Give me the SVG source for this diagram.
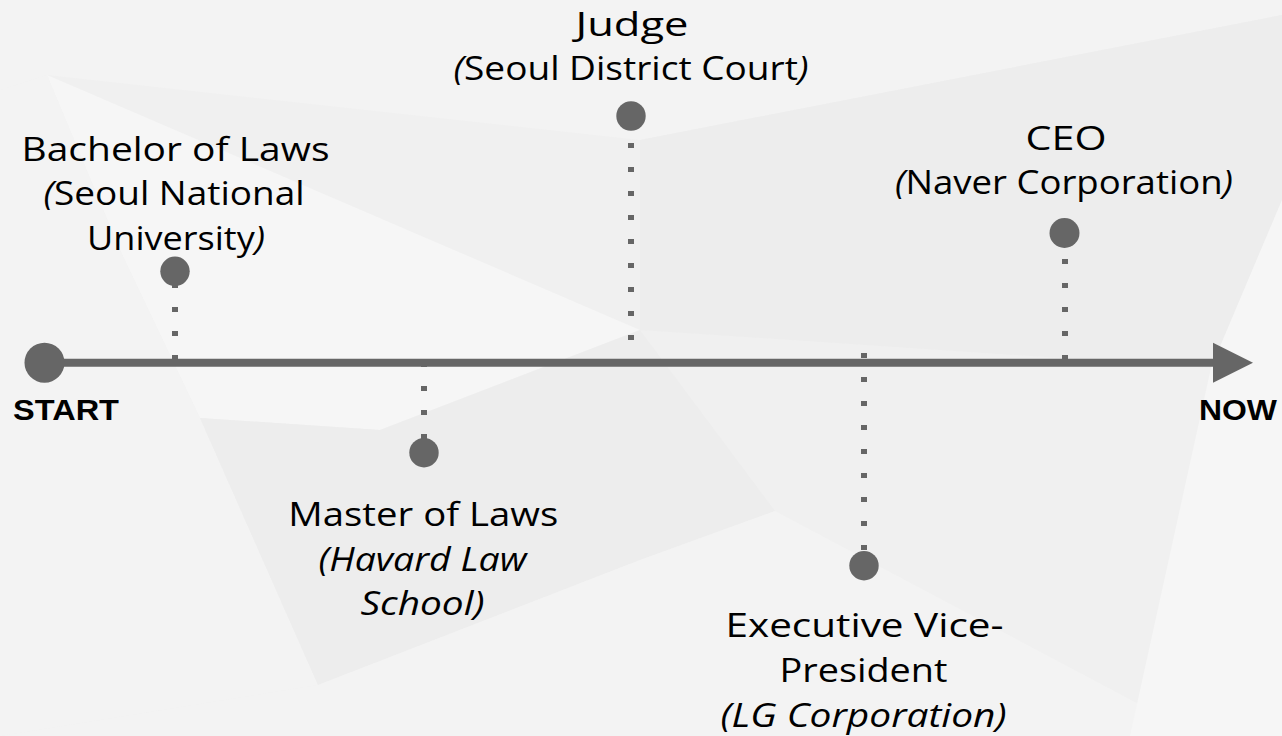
<svg xmlns="http://www.w3.org/2000/svg" width="1282" height="736" viewBox="0 0 1282 736">
<style>
.base{fill:#f0f0f0}
.lt{fill:#f6f6f6}
.lt2{fill:#f3f3f3}
.dk{fill:#ededed}
.dot{fill:#666666}
.axis{stroke:#666666;stroke-width:8;fill:none}
.dash{stroke:#666666;stroke-width:6;stroke-dasharray:5 19;fill:none}
.t{font-family:"Open Sans","Noto Sans","DejaVu Sans",sans-serif;font-size:33px;fill:#000000;text-anchor:middle}
.i{font-style:italic}
.b{font-family:"Liberation Sans",Arial,sans-serif;font-weight:bold;font-size:29px;fill:#000000}
</style>
<g id="background">
<rect class="base" x="0" y="0" width="1282" height="736"/>
<polygon class="lt2" points="0,0 1282,0 1282,15 640,140 47,75 0,90"/>
<polygon class="lt" points="47,75 640,330 380,430 200,418 120,250"/>
<polygon class="lt2" points="0,90 47,75 120,250 200,418 318,685 0,736"/>
<polygon class="dk" points="200,418 380,430 640,330 775,511 640,560 318,685"/>
<polygon class="lt2" points="318,685 640,560 775,511 1199,736 0,736"/>
<polygon class="dk" points="640,140 1282,15 1282,200 1211,368 640,330"/>
<polygon class="lt" points="1282,200 1282,736 1130,736 1211,368"/>
</g>
<g id="connectors">
<line class="axis" x1="44" y1="362.7" x2="1215" y2="362.7"/>
<polygon class="dot" points="1213,342.7 1253,362.7 1213,382.7"/>
<line class="dash" x1="175" y1="283" x2="175" y2="362"/>
<line class="dash" x1="631" y1="119" x2="631" y2="364"/>
<line class="dash" x1="1065" y1="235" x2="1065" y2="362"/>
<line class="dash" x1="424" y1="362" x2="424" y2="445"/>
<line class="dash" x1="864" y1="353" x2="864" y2="555"/>
</g>
<g id="start">
<circle class="dot" cx="44.5" cy="362.7" r="20"/>
<text class="b" x="13" y="420" textLength="106" lengthAdjust="spacingAndGlyphs">START</text>
</g>
<g id="now">
<text class="b" x="1199" y="420" textLength="78" lengthAdjust="spacingAndGlyphs">NOW</text>
</g>
<g id="bachelor">
<circle class="dot" cx="175" cy="271.3" r="14.7"/>
<text class="t" x="175.5" y="161" textLength="308" lengthAdjust="spacingAndGlyphs">Bachelor of Laws</text>
<text class="t" x="174" y="204.5" textLength="261" lengthAdjust="spacingAndGlyphs"><tspan class="i">(</tspan>Seoul National</text>
<text class="t" x="176" y="250" textLength="178" lengthAdjust="spacingAndGlyphs">University<tspan class="i">)</tspan></text>
</g>
<g id="judge">
<circle class="dot" cx="631" cy="116" r="14.7"/>
<text class="t" x="632" y="35.5" textLength="113" lengthAdjust="spacingAndGlyphs">Judge</text>
<text class="t" x="631" y="80" textLength="355" lengthAdjust="spacingAndGlyphs"><tspan class="i">(</tspan>Seoul District Court<tspan class="i">)</tspan></text>
</g>
<g id="ceo">
<circle class="dot" cx="1064.5" cy="233" r="15"/>
<text class="t" x="1066" y="150" textLength="81" lengthAdjust="spacingAndGlyphs">CEO</text>
<text class="t" x="1064" y="194" textLength="338" lengthAdjust="spacingAndGlyphs"><tspan class="i">(</tspan>Naver Corporation<tspan class="i">)</tspan></text>
</g>
<g id="master">
<circle class="dot" cx="424" cy="452.7" r="14.7"/>
<text class="t" x="423.3" y="526" textLength="270" lengthAdjust="spacingAndGlyphs">Master of Laws</text>
<text class="t i" x="422.5" y="571" textLength="208" lengthAdjust="spacingAndGlyphs">(Havard Law</text>
<text class="t i" x="422.5" y="615" textLength="124" lengthAdjust="spacingAndGlyphs">School)</text>
</g>
<g id="executive">
<circle class="dot" cx="864" cy="565.7" r="14.7"/>
<text class="t" x="864.5" y="637" textLength="278" lengthAdjust="spacingAndGlyphs">Executive Vice-</text>
<text class="t" x="863.5" y="682" textLength="168" lengthAdjust="spacingAndGlyphs">President</text>
<text class="t i" x="863.5" y="727" textLength="286" lengthAdjust="spacingAndGlyphs">(LG Corporation)</text>
</g>
</svg>
